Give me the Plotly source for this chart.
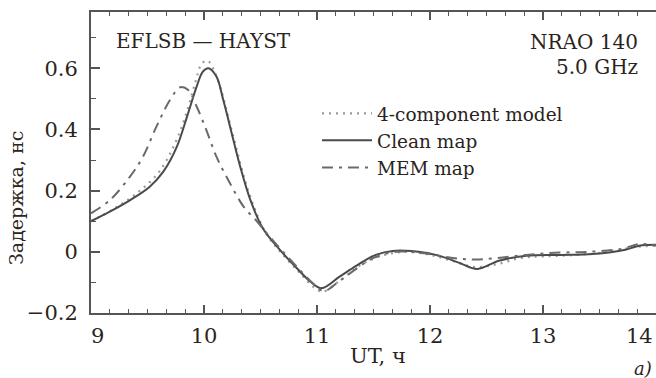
import plotly.graph_objects as go

# ---- data ----
model_x = [9.0, 9.2, 9.4, 9.6, 9.75, 9.85, 9.92, 9.98, 10.03, 10.08, 10.15, 10.25, 10.4, 10.55,
           10.7, 10.85, 10.97, 11.05, 11.2, 11.4, 11.6, 11.8, 12.0, 12.2, 12.4, 12.6, 12.8,
           13.0, 13.3, 13.6, 13.8, 14.0]
model_y = [0.10, 0.14, 0.19, 0.26, 0.36, 0.46, 0.55, 0.615, 0.625, 0.60, 0.53, 0.39, 0.19, 0.06,
           -0.01, -0.07, -0.115, -0.13, -0.095, -0.04, -0.01, 0.0, -0.01, -0.03, -0.05, -0.04,
           -0.02, -0.015, -0.01, 0.0, 0.015, 0.02]

clean_x = [9.0, 9.17, 9.35, 9.52, 9.64, 9.76, 9.85, 9.935, 9.99, 10.04, 10.11, 10.17, 10.23,
           10.32, 10.41, 10.52, 10.67, 10.82, 10.94, 11.04, 11.2, 11.35, 11.52, 11.67, 11.96,
           12.1, 12.26, 12.42, 12.61, 12.85, 13.14, 13.44, 13.73, 13.85, 14.0]
clean_y = [0.10, 0.132, 0.170, 0.213, 0.262, 0.344, 0.442, 0.540, 0.589, 0.600, 0.573, 0.497,
           0.41, 0.279, 0.170, 0.077, 0.007, -0.053, -0.097, -0.119, -0.081, -0.045, -0.01,
           0.003, -0.003, -0.015, -0.036, -0.056, -0.029, -0.013, -0.01, -0.007, 0.007, 0.02,
           0.023]

mem_x = [9.0, 9.17, 9.345, 9.46, 9.58, 9.70, 9.79, 9.86, 9.935, 10.02, 10.11, 10.23, 10.35,
         10.47, 10.555, 10.7, 10.85, 10.97, 11.06, 11.2, 11.35, 11.5, 11.7, 11.95, 12.2, 12.4,
         12.6, 12.85, 13.1, 13.4, 13.7, 13.85, 14.0]
mem_y = [0.126, 0.170, 0.246, 0.311, 0.41, 0.497, 0.538, 0.529, 0.475, 0.399, 0.311, 0.224,
         0.148, 0.099, 0.061, 0.0, -0.06, -0.105, -0.128, -0.095, -0.055, -0.02, 0.0, -0.005,
         -0.02, -0.025, -0.02, -0.01, -0.003, 0.0, 0.01, 0.025, 0.02]

x_ticks = [9, 10, 11, 12, 13, 14]
x_ticktext = ["\u20079", "10", "11", "12", "13", "14\u2007\u2007\u2008"]
y_ticks = [-0.2, 0, 0.2, 0.4, 0.6]
y_ticktext = ["\u22120.2", "0", "0.2", "0.4", "0.6"]

FONT = "'DejaVu Serif', 'Liberation Serif', 'Times New Roman', serif"
TXT = "#2a241c"
AX = "#555555"

fig = go.Figure()
fig.add_trace(go.Scatter(x=model_x, y=model_y, mode="lines", name="4-component model",
                         line=dict(color="#9a9a9a", width=2.2, dash="2px,5px", shape="spline")))
fig.add_trace(go.Scatter(x=clean_x, y=clean_y, mode="lines", name="Clean map",
                         line=dict(color="#4a4a4a", width=2, shape="spline")))
fig.add_trace(go.Scatter(x=mem_x, y=mem_y, mode="lines", name="MEM map",
                         line=dict(color="#6a6a6a", width=2, dash="11px,6px,3px,6px", shape="spline")))

tickfont = dict(family=FONT, size=21, color=TXT)
fig.update_layout(
    width=656, height=378,
    margin=dict(l=91, r=0, t=12, b=65),
    plot_bgcolor="white", paper_bgcolor="white",
    showlegend=True,
    legend=dict(x=0.40, y=0.725, xanchor="left", yanchor="top",
                font=dict(family=FONT, size=18.5, color=TXT),
                bgcolor="rgba(0,0,0,0)", itemwidth=50, tracegroupgap=0),
    xaxis=dict(range=[9, 14], tickvals=x_ticks, ticktext=x_ticktext, showgrid=False,
               zeroline=False, automargin=False,
               showline=True, linecolor=AX, linewidth=2, mirror="ticks",
               ticks="inside", ticklen=8, tickwidth=1.5, tickcolor=AX,
               tickfont=tickfont, ticklabelstandoff=3, ticklabeloverflow="allow",
               minor=dict(dtick=1/6, ticks="inside", ticklen=4, tickwidth=1.2, tickcolor=AX,
                          showgrid=False)),
    yaxis=dict(range=[-0.2, 0.784], tickvals=y_ticks, ticktext=y_ticktext, showgrid=False,
               zeroline=False, automargin=False, showline=True, linecolor=AX, linewidth=2,
               mirror=False, ticks="inside", ticklen=9, tickwidth=1.5, tickcolor=AX,
               tickfont=tickfont, ticklabelstandoff=7,
               minor=dict(dtick=0.1, ticks="inside", ticklen=5, tickwidth=1.2, tickcolor=AX,
                          showgrid=False)),
    yaxis2=dict(range=[-0.2, 0.784], overlaying="y", side="right", matches="y",
                showgrid=False, zeroline=False, showline=False, showticklabels=False,
                automargin=False,
                tickvals=y_ticks, ticks="inside", ticklen=7, tickwidth=1.5, tickcolor=AX,
                minor=dict(dtick=0.1, ticks="inside", ticklen=5, tickwidth=1.2, tickcolor=AX)),
)

ann_font = dict(family=FONT, size=20, color=TXT)
fig.add_annotation(text="EFLSB \u2014 HAYST", xref="paper", yref="paper", x=(114 - 91) / 565,
                   y=(313 - 41) / 301, xanchor="left", yanchor="middle", showarrow=False,
                   font=ann_font)
fig.add_annotation(text="NRAO 140", xref="paper", yref="paper", x=(640 - 91) / 565,
                   y=(313 - 42) / 301, xanchor="right", yanchor="middle", showarrow=False,
                   font=ann_font)
fig.add_annotation(text="5.0 GHz", xref="paper", yref="paper", x=(640 - 91) / 565,
                   y=(313 - 67) / 301, xanchor="right", yanchor="middle", showarrow=False,
                   font=ann_font)
fig.add_annotation(text="Задержка, нс", xref="paper", yref="paper", x=(16 - 91) / 565,
                   y=(313 - 198) / 301, xanchor="center", yanchor="middle", textangle=-90,
                   showarrow=False, font=dict(family=FONT, size=19, color=TXT))
fig.add_annotation(text="UT, ч", xref="paper", yref="paper", x=(378 - 91) / 565,
                   y=(313 - 356) / 301, xanchor="center", yanchor="middle",
                   showarrow=False, font=dict(family=FONT, size=21, color=TXT))
fig.add_annotation(text="<i>а)</i>", xref="paper", yref="paper", x=(654 - 91) / 565,
                   y=(313 - 369) / 301, xanchor="right", yanchor="middle",
                   showarrow=False, font=dict(family=FONT, size=18, color=TXT))

fig.write_html("out.html")
